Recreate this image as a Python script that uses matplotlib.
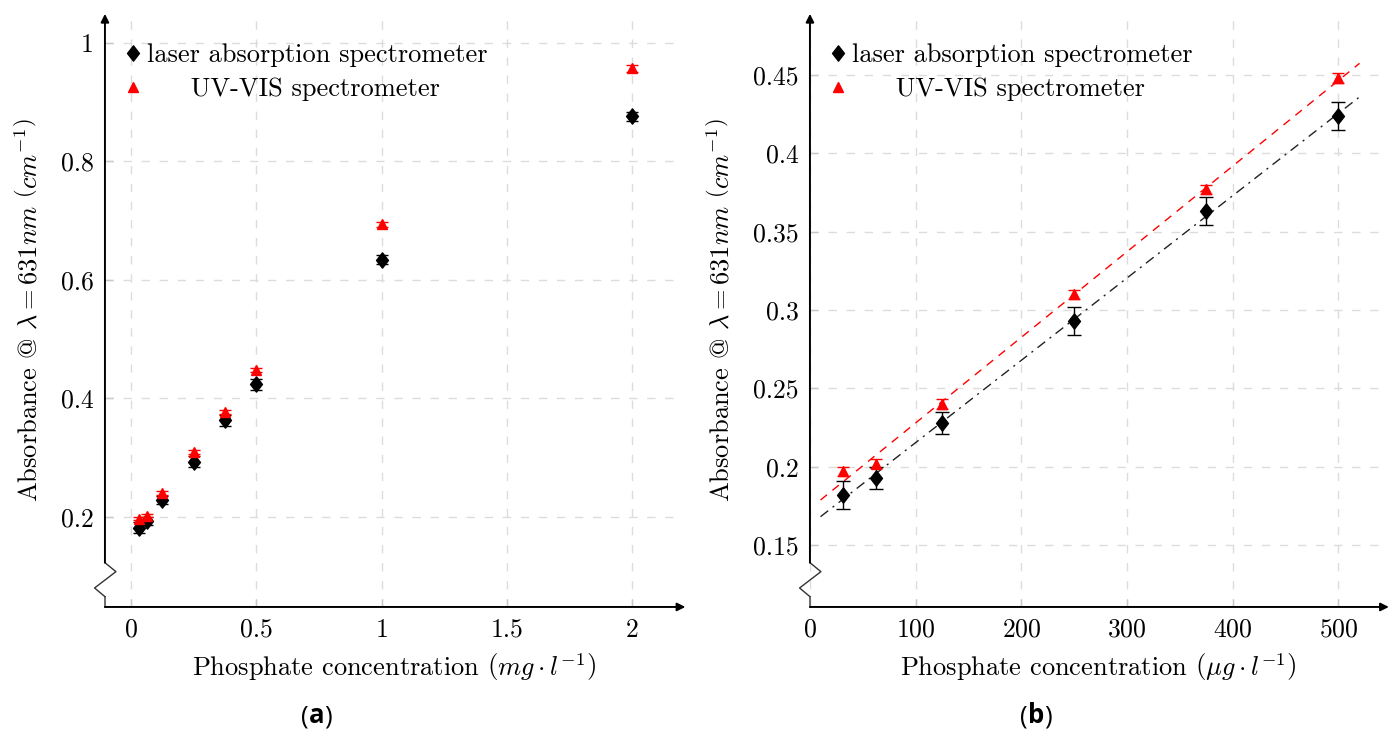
import numpy as np
import matplotlib
matplotlib.use('Agg')
import matplotlib.pyplot as plt
from matplotlib.path import Path

plt.rcParams['font.family'] = ['cmr10', 'DejaVu Serif']
plt.rcParams['mathtext.fontset'] = 'cm'
plt.rcParams['axes.formatter.use_mathtext'] = True
plt.rcParams['font.size'] = 18

# phosphate concentration, mg/l
conc_mg = [0.03125, 0.0625, 0.125, 0.25, 0.375, 0.5, 1.0, 2.0]
laser_a = [0.182, 0.193, 0.228, 0.293, 0.363, 0.424, 0.634, 0.876]
laser_a_err = [0.009, 0.007, 0.007, 0.009, 0.009, 0.009, 0.008, 0.008]
uv_a = [0.197, 0.202, 0.240, 0.310, 0.377, 0.448, 0.694, 0.957]
uv_a_err = [0.003, 0.003, 0.003, 0.003, 0.003, 0.003, 0.004, 0.006]

# phosphate concentration, ug/l (only the low range)
conc_ug = [31.25, 62.5, 125, 250, 375, 500]
laser_b = laser_a[:6]
laser_b_err = laser_a_err[:6]
uv_b = uv_a[:6]
uv_b_err = uv_a_err[:6]

lab_laser = 'laser absorption spectrometer'
lab_uv = '     UV-VIS spectrometer'

# squat diamond like the pgfplots one
diamond = Path([(0, 1), (0.78, 0), (0, -1), (-0.78, 0), (0, 1)],
               [Path.MOVETO, Path.LINETO, Path.LINETO, Path.LINETO, Path.CLOSEPOLY])


def axis_frame(ax):
    for s in ax.spines.values():
        s.set_visible(False)
    gray = '#6e6e6e'
    # x axis with arrow
    ax.annotate('', xy=(1.005, 0), xytext=(0, 0), xycoords='axes fraction',
                arrowprops=dict(arrowstyle='-|>', color=gray, lw=1.4,
                                mutation_scale=12, shrinkA=0, shrinkB=0,
                                fc='black', ec='black'))
    ax.plot([0, 0], [0, 0.0174], transform=ax.transAxes, color=gray, lw=1.4, clip_on=False)
    # axis break zigzag
    ax.plot([0, -0.018, 0.019, 0], [0.0174, 0.032, 0.0595, 0.0747],
            transform=ax.transAxes, color='#333333', lw=1.0, clip_on=False)
    ax.annotate('', xy=(0, 1.0), xytext=(0, 0.0747), xycoords='axes fraction',
                arrowprops=dict(arrowstyle='-|>', color=gray, lw=1.4,
                                mutation_scale=12, shrinkA=0, shrinkB=0,
                                fc='black', ec='black'))
    ax.grid(True, color='#dcdcdc', linestyle=(0, (6, 7)), lw=1.0)
    ax.set_axisbelow(True)
    ax.tick_params(direction='in', length=6, color='#c8c8c8', width=1.0,
                   labelsize=18.5, pad=8)


fig = plt.figure(figsize=(13.9, 7.29), dpi=100)
ax1 = fig.add_axes([0.0755, 0.1674, 0.4155, 0.8136])
ax2 = fig.add_axes([0.5827, 0.1674, 0.4144, 0.8136])

leg_kw = dict(loc='upper left', frameon=False, fontsize=19, handlelength=0.5,
              handletextpad=0.3, borderaxespad=0.4, labelspacing=0.4,
              bbox_to_anchor=(0.0, 0.986))

# panel (a)
ax1.errorbar(conc_mg, laser_a, yerr=laser_a_err, fmt='none', ecolor='black',
             capsize=4, elinewidth=1.0, capthick=1.0)
m1, = ax1.plot(conc_mg, laser_a, ls='none', marker=diamond, color='black', ms=11)
ax1.errorbar(conc_mg, uv_a, yerr=uv_a_err, fmt='none', ecolor='red',
             capsize=4, elinewidth=1.0, capthick=1.0)
m2, = ax1.plot(conc_mg, uv_a, ls='none', marker='^', color='red', ms=7)
ax1.set_xlim(-0.104, 2.2)
ax1.set_ylim(0.048, 1.049)
ax1.set_xticks([0, 0.5, 1, 1.5, 2])
ax1.set_xticklabels(['0', '0.5', '1', '1.5', '2'])
ax1.set_yticks([0.2, 0.4, 0.6, 0.8, 1.0])
ax1.set_yticklabels(['0.2', '0.4', '0.6', '0.8', '1'])
axis_frame(ax1)
ax1.set_xlabel(r'Phosphate concentration $\left(mg \cdot l^{-1}\right)$', fontsize=19, labelpad=7)
ax1.set_ylabel(r'Absorbance @ $\lambda = 631nm$ $\left(cm^{-1}\right)$', fontsize=19, labelpad=14)
ax1.legend([m1, m2], [lab_laser, lab_uv], **leg_kw)

# panel (b)
k_l = np.polyfit(conc_ug, laser_b, 1)
k_u = np.polyfit(conc_ug, uv_b, 1)
xfit = np.array([10, 520])
ax2.plot(xfit, np.polyval(k_u, xfit), color='red', ls=(0, (6, 5)), lw=1.0)
ax2.plot(xfit, np.polyval(k_l, xfit), color='#222222', ls=(0, (7, 4, 1.5, 4)), lw=1.0)
ax2.errorbar(conc_ug, laser_b, yerr=laser_b_err, fmt='none', ecolor='black',
             capsize=5, elinewidth=1.0, capthick=1.0)
g1, = ax2.plot(conc_ug, laser_b, ls='none', marker=diamond, color='black', ms=11)
ax2.errorbar(conc_ug, uv_b, yerr=uv_b_err, fmt='none', ecolor='red',
             capsize=4, elinewidth=1.0, capthick=1.0)
g2, = ax2.plot(conc_ug, uv_b, ls='none', marker='^', color='red', ms=7)
ax2.set_xlim(0, 545)
ax2.set_ylim(0.1105, 0.489)
ax2.set_xticks([0, 100, 200, 300, 400, 500])
ax2.set_yticks([0.15, 0.2, 0.25, 0.3, 0.35, 0.4, 0.45])
ax2.set_yticklabels(['0.15', '0.2', '0.25', '0.3', '0.35', '0.4', '0.45'])
axis_frame(ax2)
ax2.set_xlabel(r'Phosphate concentration $\left(\mu g \cdot l^{-1}\right)$', fontsize=19, labelpad=7)
ax2.set_ylabel(r'Absorbance @ $\lambda = 631nm$ $\left(cm^{-1}\right)$', fontsize=19, labelpad=14)
ax2.legend([g1, g2], [lab_laser, lab_uv], **leg_kw)

# sub-captions
for xc, letter in [(0.2295, 'a'), (0.7468, 'b')]:
    t1 = fig.text(xc - 0.013, 0.008, '(', family='Open Sans', fontsize=18.5, va='baseline')
    a2 = fig.add_artist(matplotlib.text.Annotation(letter, xy=(1, 0), xycoords=t1,
                                                   family='Open Sans', fontsize=18.5, weight='bold',
                                                   va='bottom'))
    fig.add_artist(matplotlib.text.Annotation(')', xy=(1, 0), xycoords=a2,
                                              family='Open Sans', fontsize=18.5, va='bottom'))

fig.savefig('out.png', dpi=100)
